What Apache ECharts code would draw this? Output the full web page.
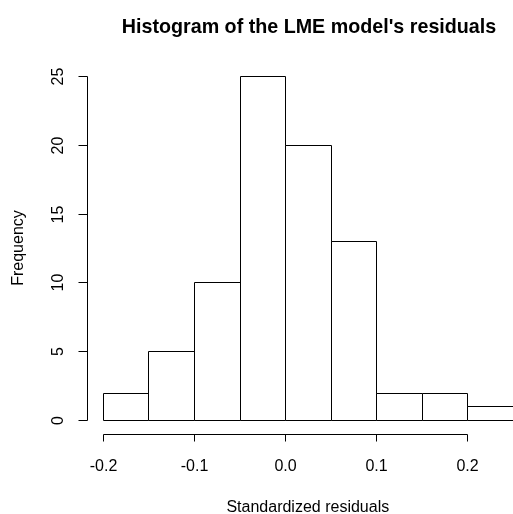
<!DOCTYPE html>
<html>
<head>
<meta charset="utf-8">
<script src="https://cdn.jsdelivr.net/npm/echarts@6/dist/echarts.min.js"></script>
<style>
  html, body { margin: 0; padding: 0; background: #fff; }
  #chart { width: 513px; height: 514px; }
</style>
</head>
<body>
<div id="chart"></div>
<script>
// Histogram bins: break points and counts per bin
const binBreaks = [-0.2, -0.15, -0.1, -0.05, 0.0, 0.05, 0.1, 0.15, 0.2, 0.25];
const binCounts = [2, 5, 10, 25, 20, 13, 2, 2, 1];

// Axis ticks and their labels
const xTicks = [-0.2, -0.1, 0.0, 0.1, 0.2];
const xTickLabels = ['-0.2', '-0.1', '0.0', '0.1', '0.2'];
const yTicks = [0, 5, 10, 15, 20, 25];
const yTickLabels = ['0', '5', '10', '15', '20', '25'];

const titleText = "Histogram of the LME model's residuals";
const xLabel = 'Standardized residuals';
const yLabel = 'Frequency';

// Plot range padded by 4% on each side, like base R graphics
const xLo = binBreaks[0], xHi = binBreaks[binBreaks.length - 1];
const xPad = (xHi - xLo) * 0.04;
const yHi = Math.max.apply(null, yTicks);
const yPad = yHi * 0.04;

const FONT = '"Liberation Sans", Arial, Helvetica, sans-serif';
const INK = '#000';

const bars = binCounts.map((c, i) => [binBreaks[i], binBreaks[i + 1], c]);

const chart = echarts.init(document.getElementById('chart'), null, { renderer: 'canvas' });

chart.setOption({
  animation: false,
  backgroundColor: '#fff',
  title: {
    text: titleText,
    left: 304, top: 13,
    textAlign: 'center',
    textStyle: { fontFamily: FONT, fontWeight: 'bold', fontSize: 19.7, color: INK }
  },
  grid: { left: 86.6, top: 62.2, width: 442.4, height: 371.6,
          containLabel: false, outerBoundsMode: 'none' },
  xAxis: {
    type: 'value', min: xLo - xPad, max: xHi + xPad,
    axisLine: { show: false }, axisTick: { show: false },
    axisLabel: { show: false }, splitLine: { show: false },
    name: xLabel, nameLocation: 'middle', nameGap: 66,
    nameTextStyle: { fontFamily: FONT, fontSize: 16, color: INK }
  },
  yAxis: {
    type: 'value', min: -yPad, max: yHi + yPad,
    axisLine: { show: false }, axisTick: { show: false },
    axisLabel: { show: false }, splitLine: { show: false },
    name: yLabel, nameLocation: 'middle', nameGap: 60, nameRotate: 90,
    nameTextStyle: { fontFamily: FONT, fontSize: 16, color: INK }
  },
  series: [
    {
      // histogram rectangles
      type: 'custom',
      data: bars,
      clip: false,
      renderItem: function (params, api) {
        const p0 = api.coord([api.value(0), api.value(2)]);
        const p1 = api.coord([api.value(1), 0]);
        return {
          type: 'rect',
          shape: { x: Math.round(p0[0]) + 0.5, y: Math.round(p0[1]) + 0.5,
                   width: Math.round(p1[0]) - Math.round(p0[0]),
                   height: Math.round(p1[1]) - Math.round(p0[1]) },
          style: { fill: '#fff', stroke: INK, lineWidth: 1 }
        };
      },
      silent: true
    },
    {
      // x axis: line between first and last tick, ticks and labels
      type: 'custom',
      data: xTicks.map((v, i) => [v, i]),
      clip: false,
      renderItem: function (params, api) {
        const v = api.value(0);
        const idx = api.value(1);
        const base = api.coord([v, -yPad]);
        const x = Math.round(base[0]) + 0.5;
        const y = Math.round(base[1]) + 0.5;
        const children = [
          { type: 'line', shape: { x1: x, y1: y, x2: x, y2: y + 7 },
            style: { stroke: INK, lineWidth: 1 } },
          { type: 'text', x: x, y: y + 32,
            style: { text: xTickLabels[idx], align: 'center', verticalAlign: 'middle',
                     font: '16px ' + FONT, fill: INK } }
        ];
        if (idx === 0) {
          const end = api.coord([xTicks[xTicks.length - 1], -yPad]);
          children.push({ type: 'line',
            shape: { x1: x, y1: y, x2: Math.round(end[0]) + 0.5, y2: y },
            style: { stroke: INK, lineWidth: 1 } });
        }
        return { type: 'group', children: children };
      },
      silent: true
    },
    {
      // y axis: line between first and last tick, ticks and rotated labels
      type: 'custom',
      data: yTicks.map((v, i) => [v, i]),
      clip: false,
      renderItem: function (params, api) {
        const v = api.value(0);
        const idx = api.value(1);
        const base = api.coord([xLo - xPad, v]);
        const x = Math.round(base[0]) + 0.5;
        const y = Math.round(base[1]) + 0.5;
        const children = [
          { type: 'line', shape: { x1: x, y1: y, x2: x - 9, y2: y },
            style: { stroke: INK, lineWidth: 1 } },
          { type: 'text', x: x - 29, y: y, rotation: Math.PI / 2,
            style: { text: yTickLabels[idx], align: 'center', verticalAlign: 'middle',
                     font: '16px ' + FONT, fill: INK } }
        ];
        if (idx === 0) {
          const end = api.coord([xLo - xPad, yTicks[yTicks.length - 1]]);
          children.push({ type: 'line',
            shape: { x1: x, y1: y, x2: x, y2: Math.round(end[1]) + 0.5 },
            style: { stroke: INK, lineWidth: 1 } });
        }
        return { type: 'group', children: children };
      },
      silent: true
    }
  ]
});
</script>
</body>
</html>
